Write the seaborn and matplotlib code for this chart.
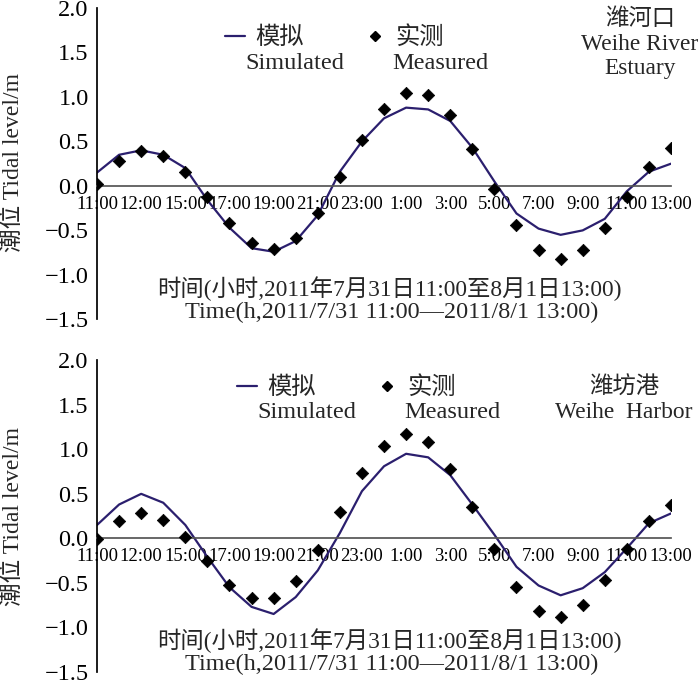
import numpy as np
import pandas as pd
import matplotlib
matplotlib.use("Agg")
import matplotlib.pyplot as plt
import seaborn as sns
from matplotlib.lines import Line2D

sns.set_theme(style="white")
plt.rcParams["font.family"] = ["Liberation Serif", "Noto Sans CJK SC"]
plt.rcParams["axes.unicode_minus"] = True

# hourly positions 0..26 (11:00 on 7/31 to 13:00 on 8/1)
hour_pos = np.arange(27)

tick_pos = [0, 2, 4, 6, 8, 10, 12, 14, 16, 18, 20, 22, 24, 26]
tick_labels = ["11:00", "12:00", "15:00", "17:00", "19:00", "21:00", "23:00",
               "1:00", "3:00", "5:00", "7:00", "9:00", "11:00", "13:00"]
y_ticks = [-1.5, -1.0, -0.5, 0.0, 0.5, 1.0, 1.5, 2.0]

# Weihe River Estuary
estuary_sim = [0.15, 0.35, 0.40, 0.35, 0.20, -0.16, -0.47, -0.70, -0.74, -0.62,
               -0.33, 0.16, 0.50, 0.76, 0.88, 0.86, 0.73, 0.43, 0.05, -0.31,
               -0.48, -0.55, -0.50, -0.37, -0.06, 0.16, 0.25]
estuary_obs = [0.02, 0.28, 0.39, 0.34, 0.16, -0.12, -0.42, -0.64, -0.71, -0.59,
               -0.30, 0.10, 0.52, 0.86, 1.04, 1.02, 0.80, 0.42, -0.03, -0.44,
               -0.72, -0.82, -0.72, -0.47, -0.13, 0.21, 0.43]

# Weifang Harbor
harbor_sim = [0.15, 0.38, 0.50, 0.40, 0.15, -0.21, -0.55, -0.77, -0.85, -0.66,
              -0.36, 0.06, 0.53, 0.81, 0.95, 0.91, 0.71, 0.38, 0.04, -0.32,
              -0.53, -0.64, -0.56, -0.38, -0.11, 0.17, 0.28]
harbor_obs = [-0.01, 0.19, 0.28, 0.21, 0.01, -0.26, -0.52, -0.67, -0.67, -0.48,
              -0.13, 0.30, 0.73, 1.04, 1.17, 1.08, 0.78, 0.35, -0.12, -0.55,
              -0.82, -0.88, -0.75, -0.47, -0.12, 0.19, 0.38]

line_color = "#2B1F6E"
xlabel_cn = "时间(小时,2011年7月31日11:00至8月1日13:00)"
xlabel_en = "Time(h,2011/7/31 11:00\u20142011/8/1 13:00)"

fig = plt.figure(figsize=(7.0, 6.8), dpi=100)
ax_top = fig.add_axes([0.1386, 0.5304, 0.82, 0.4578])
ax_bot = fig.add_axes([0.1386, 0.0120, 0.82, 0.4581])

panels = [
    (ax_top, estuary_sim, estuary_obs, "潍河口\nWeihe River\nEstuary", (0.946, 0.885), 0.223, (0.905, 0.822)),
    (ax_bot, harbor_sim, harbor_obs, "潍坊港\nWeihe  Harbor", (0.918, 0.873), 0.244, (0.912, 0.832)),
]

for ax, sim, obs, station, st_xy, leg_x, leg_y in panels:
    df = pd.DataFrame({"hour": hour_pos, "sim": sim, "obs": obs})
    sns.lineplot(data=df, x="hour", y="sim", ax=ax, color=line_color, linewidth=1.6)
    sns.scatterplot(data=df, x="hour", y="obs", ax=ax, color="black", marker="D",
                    s=40, edgecolor="black", zorder=3)

    ax.set_xlim(0, 26)
    ax.set_ylim(-1.5, 2.0)
    ax.set_yticks(y_ticks)
    ax.set_yticklabels([f"{v:.1f}".replace("-", "\u2212") for v in y_ticks])
    ax.set_xticks(tick_pos)
    ax.set_xticklabels(tick_labels)

    ax.spines["top"].set_visible(False)
    ax.spines["right"].set_visible(False)
    ax.spines["bottom"].set_position(("data", 0))
    ax.spines["left"].set_color("black")
    ax.spines["bottom"].set_color("#555555")
    ax.tick_params(axis="y", direction="in", length=4, labelsize=17.5, pad=6, colors="black")
    ax.tick_params(axis="x", direction="in", length=4, labelsize=13.5, pad=7, colors="black")
    ax.tick_params(axis="x", color="#555555")

    ax.set_xlabel("")
    ax.set_ylabel("")

    ax.text(0.51, 0.10, xlabel_cn, transform=ax.transAxes, ha="center", va="center",
            fontsize=16.8)
    ax.text(0.513, 0.023, xlabel_en, transform=ax.transAxes, ha="center", va="center",
            fontsize=17.5)
    ax.text(st_xy[0], st_xy[1], station, transform=ax.transAxes, ha="center", va="center",
            fontsize=16.8, linespacing=1.22)

    handles = [Line2D([], [], color=line_color, linewidth=1.6),
               Line2D([], [], color="black", marker="D", markersize=5.5, linestyle="none")]
    ax.legend(handles, ["模拟", "实测"], ncol=2, loc="center left",
              bbox_to_anchor=(leg_x, leg_y[0]), frameon=False, fontsize=17.5,
              handlelength=0.82, handletextpad=0.41, columnspacing=2.55,
              borderpad=0, borderaxespad=0)
    ax.text(leg_x + 0.122, leg_y[1], "Simulated", transform=ax.transAxes,
            ha="center", va="center", fontsize=17.5)
    ax.text(leg_x + 0.375, leg_y[1], "Measured", transform=ax.transAxes,
            ha="center", va="center", fontsize=17.5)

# y labels centred on each panel
fig.text(13 / 700, 1 - 163 / 680, "潮位 Tidal level/m", rotation=90,
         ha="center", va="center", fontsize=17)
fig.text(13 / 700, 1 - 516 / 680, "潮位 Tidal level/m", rotation=90,
         ha="center", va="center", fontsize=17)

fig.savefig("out.png", dpi=100)
